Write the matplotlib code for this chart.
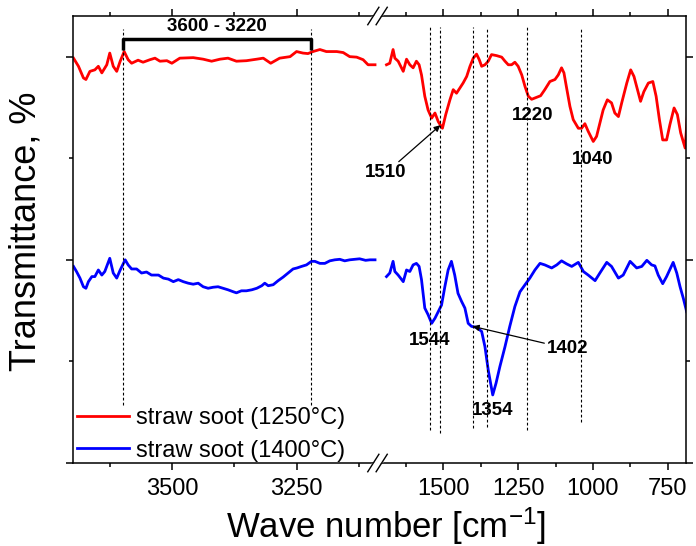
import numpy as np
import matplotlib
matplotlib.use('Agg')
import matplotlib.pyplot as plt
from matplotlib.ticker import MultipleLocator, NullFormatter
from matplotlib.lines import Line2D

plt.rcParams['font.family'] = ['Liberation Sans', 'DejaVu Sans']
plt.rcParams['mathtext.default'] = 'regular'

# FTIR spectra, high wavenumber part (3700 - 3090 cm-1)
wn_hi = [3699, 3689, 3679, 3674, 3666, 3656, 3649, 3642, 3632, 3626, 3619, 3612,
         3605, 3597, 3589, 3582, 3569, 3559, 3545, 3535, 3525, 3511, 3501, 3485,
         3458, 3438, 3421, 3404, 3388, 3371, 3351, 3330, 3317, 3302, 3284, 3263,
         3250, 3237, 3227, 3217, 3203, 3190, 3169, 3156, 3143, 3129, 3116, 3106, 3092]
t1250_hi = [79.7, 78.1, 75.8, 75.5, 77.1, 77.4, 78.1, 76.8, 78.4, 80.7, 78.1, 77.1,
            79.1, 81.0, 79.4, 78.7, 79.3, 78.9, 79.4, 79.7, 79.1, 79.2, 78.7, 79.7,
            79.8, 79.5, 79.1, 79.5, 79.7, 79.1, 79.2, 79.5, 79.7, 78.7, 79.7, 80.0,
            81.0, 80.7, 80.6, 81.0, 81.4, 81.0, 81.0, 80.8, 80.0, 79.9, 79.4, 78.4, 78.4]

wn_hi_b = [3699, 3693, 3686, 3679, 3674, 3669, 3662, 3656, 3649, 3642, 3636, 3626,
           3619, 3612, 3605, 3595, 3589, 3582, 3572, 3562, 3552, 3542, 3528, 3518,
           3508, 3498, 3488, 3478, 3468, 3458, 3448, 3438, 3428, 3418, 3408, 3398,
           3388, 3377, 3371, 3361, 3351, 3340, 3330, 3320, 3314, 3307, 3297, 3287,
           3277, 3267, 3257, 3249, 3240, 3230, 3220, 3213, 3203, 3193, 3183, 3173,
           3163, 3153, 3143, 3133, 3123, 3111, 3102, 3092]
t1400_hi = [38.7, 37.7, 36.4, 34.7, 34.4, 35.7, 36.7, 36.7, 38.0, 37.0, 37.7, 40.3,
            37.4, 36.4, 38.0, 40.0, 39.0, 38.2, 38.2, 37.4, 37.6, 37.0, 37.0, 36.4,
            36.2, 35.7, 36.1, 35.7, 35.4, 35.2, 35.4, 34.7, 34.4, 34.6, 34.7, 34.4,
            34.1, 33.7, 33.5, 33.9, 33.9, 34.1, 34.4, 34.9, 35.4, 34.9, 35.1, 35.9,
            36.6, 37.4, 38.2, 38.4, 38.7, 39.0, 39.7, 39.7, 39.3, 39.3, 39.8, 40.0,
            40.1, 39.8, 40.0, 40.1, 40.2, 39.9, 40.0, 40.0]

# fingerprint region (1700 - 690 cm-1)
wn_lo = [1690, 1679, 1668, 1662, 1651, 1634, 1623, 1612, 1601, 1590, 1581, 1573,
         1562, 1551, 1539, 1528, 1517, 1503, 1492, 1478, 1467, 1456, 1445, 1434,
         1422, 1411, 1400, 1389, 1380, 1372, 1361, 1350, 1339, 1322, 1305, 1294,
         1283, 1272, 1261, 1250, 1238, 1227, 1216, 1205, 1188, 1175, 1161, 1144,
         1127, 1116, 1105, 1097, 1088, 1077, 1066, 1049, 1038, 1027, 1016, 999,
         988, 977, 966, 952, 938, 927, 915, 904, 887, 874, 863, 854,
         841, 830, 815, 800, 789, 778, 767, 754, 743, 729, 718, 707,
         692, 684]
t1250_lo = [78.4, 78.7, 81.4, 79.7, 79.1, 77.1, 79.5, 78.4, 77.8, 79.1, 78.4, 76.4,
            72.2, 69.5, 67.9, 68.9, 67.2, 65.9, 68.6, 71.5, 73.5, 72.8, 73.8, 74.8,
            76.1, 78.1, 79.7, 80.5, 79.4, 78.1, 78.4, 79.1, 80.4, 80.2, 79.9, 79.1,
            78.4, 78.4, 78.9, 78.1, 76.4, 74.1, 72.2, 71.6, 72.0, 72.3, 73.5, 75.1,
            75.5, 76.4, 77.8, 76.8, 73.8, 70.2, 67.6, 65.9, 65.9, 66.8, 65.3, 63.3,
            64.3, 66.9, 69.5, 71.5, 70.9, 68.9, 68.2, 70.9, 74.8, 77.4, 76.1, 74.1,
            71.2, 73.1, 74.8, 75.1, 72.2, 67.6, 63.6, 63.6, 66.6, 69.9, 68.6, 65.0,
            62.0, 69.0]

wn_lo_b = [1690, 1679, 1668, 1662, 1651, 1634, 1623, 1612, 1601, 1590, 1581, 1573,
           1562, 1551, 1539, 1528, 1517, 1506, 1495, 1484, 1473, 1462, 1451, 1439,
           1428, 1417, 1406, 1389, 1372, 1361, 1350, 1335, 1324, 1311, 1294, 1278,
           1261, 1244, 1227, 1211, 1194, 1177, 1161, 1138, 1121, 1105, 1088, 1071,
           1049, 1032, 1016, 993, 977, 954, 938, 915, 899, 876, 854, 837,
           820, 804, 793, 782, 767, 754, 732, 720, 709, 698, 687]
t1400_lo = [36.7, 37.4, 39.7, 37.7, 37.0, 35.7, 38.0, 37.7, 39.0, 39.3, 38.7, 36.1,
            30.5, 29.2, 27.5, 28.5, 29.8, 31.1, 34.7, 38.0, 39.7, 37.0, 33.4, 31.8,
            30.5, 27.5, 26.9, 26.7, 25.9, 22.9, 18.3, 13.4, 15.7, 19.0, 22.9, 26.9,
            30.8, 33.7, 35.1, 36.4, 38.0, 39.3, 39.0, 38.4, 39.0, 39.8, 39.2, 38.7,
            39.5, 37.7, 37.0, 35.9, 37.4, 39.5, 38.7, 36.4, 37.0, 39.7, 38.4, 38.7,
            39.9, 39.0, 38.8, 37.0, 35.3, 36.7, 39.5, 37.4, 34.7, 32.4, 29.8]

labels = ['straw soot (1250°C)', 'straw soot (1400°C)']
colors = ['#ff0000', '#0000ff']

# guide lines
band_range = [3600, 3220]
bands = [1544, 1510, 1402, 1354, 1220, 1040]
bands_bottom = [6.5, 6.0, 6.9, 7.1, 6.5, 8.1]

fig = plt.figure(figsize=(6.96, 5.46), dpi=100)
ax1 = fig.add_axes([0.1049, 0.1520, 0.4375, 0.8187])
ax2 = fig.add_axes([0.5424, 0.1520, 0.4433, 0.8187])

ax1.plot(wn_hi, t1250_hi, color=colors[0], lw=2, label=labels[0])
ax1.plot(wn_hi_b, t1400_hi, color=colors[1], lw=2, label=labels[1])
ax2.plot(wn_lo, t1250_lo, color=colors[0], lw=2)
ax2.plot(wn_lo_b, t1400_lo, color=colors[1], lw=2)

ax1.set_xlim(3700, 3087)
ax2.set_xlim(1720, 689)
for ax in (ax1, ax2):
    ax.set_ylim(0, 88)
    ax.yaxis.set_major_locator(MultipleLocator(40))
    ax.yaxis.set_minor_locator(MultipleLocator(20))
    ax.yaxis.set_major_formatter(NullFormatter())
    ax.xaxis.set_major_locator(MultipleLocator(250))
    ax.xaxis.set_minor_locator(MultipleLocator(125))
    for s in ax.spines.values():
        s.set_linewidth(1.1)
    ax.tick_params(which='major', direction='out', length=5, width=1.1, labelsize=17,
                   top=True, pad=6)
    ax.tick_params(which='minor', direction='out', length=3, width=1.1, top=True)

ax1.spines['right'].set_visible(False)
ax2.spines['left'].set_visible(False)
ax1.tick_params(which='both', right=False)
ax2.tick_params(which='both', left=False, right=True)

# dashed guide lines and the bracket over the OH region
ax1.vlines(band_range, 11.4, 85.5, colors='k', linestyles=(0, (2.5, 2)), lw=0.8)
ax1.plot([band_range[0], band_range[0], band_range[1], band_range[1]],
         [81.4, 83.5, 83.5, 81.4], color='k', lw=2.5, solid_capstyle='butt')
ax1.text(np.mean(band_range), 84.3, '3600 - 3220', ha='center', va='bottom',
         fontsize=13.5, fontweight='bold')

ax2.vlines(bands, bands_bottom, 85.9, colors='k', linestyles=(0, (2.5, 2)), lw=0.8)

arrow = dict(arrowstyle='-|>', color='k', lw=0.9, mutation_scale=9, shrinkA=0, shrinkB=0)
ax2.annotate('1510', xy=(1510, 66.5), xytext=(1692, 57.1), ha='center', va='center',
             fontsize=13.5, fontweight='bold', arrowprops=arrow)
ax2.annotate('1402', xy=(1402, 26.9), xytext=(1084, 22.5), ha='center', va='center',
             fontsize=13.5, fontweight='bold', arrowprops=arrow)
ax2.text(1201, 68.4, '1220', ha='center', va='center', fontsize=13.5, fontweight='bold')
ax2.text(1000, 59.7, '1040', ha='center', va='center', fontsize=13.5, fontweight='bold')
ax2.text(1545, 24.2, '1544', ha='center', va='center', fontsize=13.5, fontweight='bold')
ax2.text(1334, 10.4, '1354', ha='center', va='center', fontsize=13.5, fontweight='bold')

ax1.legend(loc='lower left', bbox_to_anchor=(-0.005, -0.01), frameon=False, fontsize=17,
           handlelength=2.2, handletextpad=0.3, labelspacing=0.45, borderaxespad=0,
           borderpad=0.25)

# axis break marks
xb = 0.5424
for yb in (0.1520, 0.9707):
    fig.add_artist(Line2D([xb - 0.006, xb + 0.006], [yb - 0.004, yb + 0.004],
                          color='white', lw=3))
    for dx in (-0.006, 0.006):
        fig.add_artist(Line2D([xb + dx - 0.008, xb + dx + 0.008],
                              [yb - 0.016, yb + 0.016], color='k', lw=1))

fig.text(0.555, 0.036, 'Wave number [cm$^{-1}$]', ha='center', va='center', fontsize=25)
fig.text(0.038, 0.577, 'Transmittance, %', ha='center', va='center', rotation=90,
         fontsize=26)

fig.savefig('out.png', dpi=100)
